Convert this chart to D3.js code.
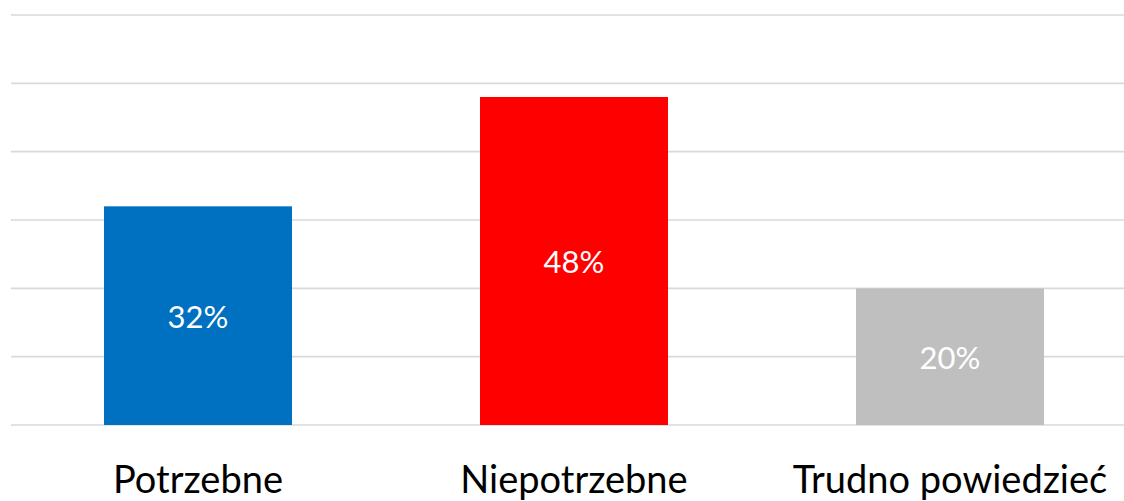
<!DOCTYPE html>
<html><head><meta charset="utf-8">
<script src="https://cdn.jsdelivr.net/npm/d3@7"></script>
<style>body{margin:0;background:#fff}svg{display:block}text{font-family:Lato,"Open Sans",sans-serif}</style>
</head><body>
<svg id="c" width="1124" height="501"></svg>
<script>
const categories = ["Potrzebne", "Niepotrzebne", "Trudno powiedzieć"];
const values = [0.32, 0.48, 0.20];
const valueLabels = ["32%", "48%", "20%"];
const colors = ["#0070C0", "#FF0000", "#BFBFBF"];
const gridTicks = [0, 0.1, 0.2, 0.3, 0.4, 0.5, 0.6];

const svg = d3.select("#c");
const x = d3.scaleBand().domain(categories).range([10, 1138]).paddingInner(0.5).paddingOuter(0.25);
const y = d3.scaleLinear().domain([0, 0.6]).range([425, 15]);

svg.append("g").selectAll("line").data(gridTicks).join("line")
  .attr("x1", 11).attr("x2", 1124)
  .attr("y1", d => y(d)).attr("y2", d => y(d))
  .attr("stroke", "#d9d9d9").attr("stroke-width", 1.7);

svg.append("g").selectAll("rect").data(values).join("rect")
  .attr("x", (d, i) => x(categories[i]))
  .attr("width", x.bandwidth())
  .attr("y", d => y(d))
  .attr("height", d => y(0) - y(d))
  .attr("fill", (d, i) => colors[i]);

svg.append("g").selectAll("text").data(values).join("text")
  .attr("x", (d, i) => x(categories[i]) + x.bandwidth() / 2)
  .attr("y", d => (y(d) + y(0)) / 2 + 12)
  .attr("text-anchor", "middle")
  .attr("fill", "#fff")
  .attr("font-size", 31)
  .text((d, i) => valueLabels[i]);

svg.append("g").selectAll("text").data(categories).join("text")
  .attr("x", d => x(d) + x.bandwidth() / 2)
  .attr("y", 493)
  .attr("text-anchor", "middle")
  .attr("fill", "#000")
  .attr("font-size", 38)
  .text(d => d);
</script>
</body></html>
